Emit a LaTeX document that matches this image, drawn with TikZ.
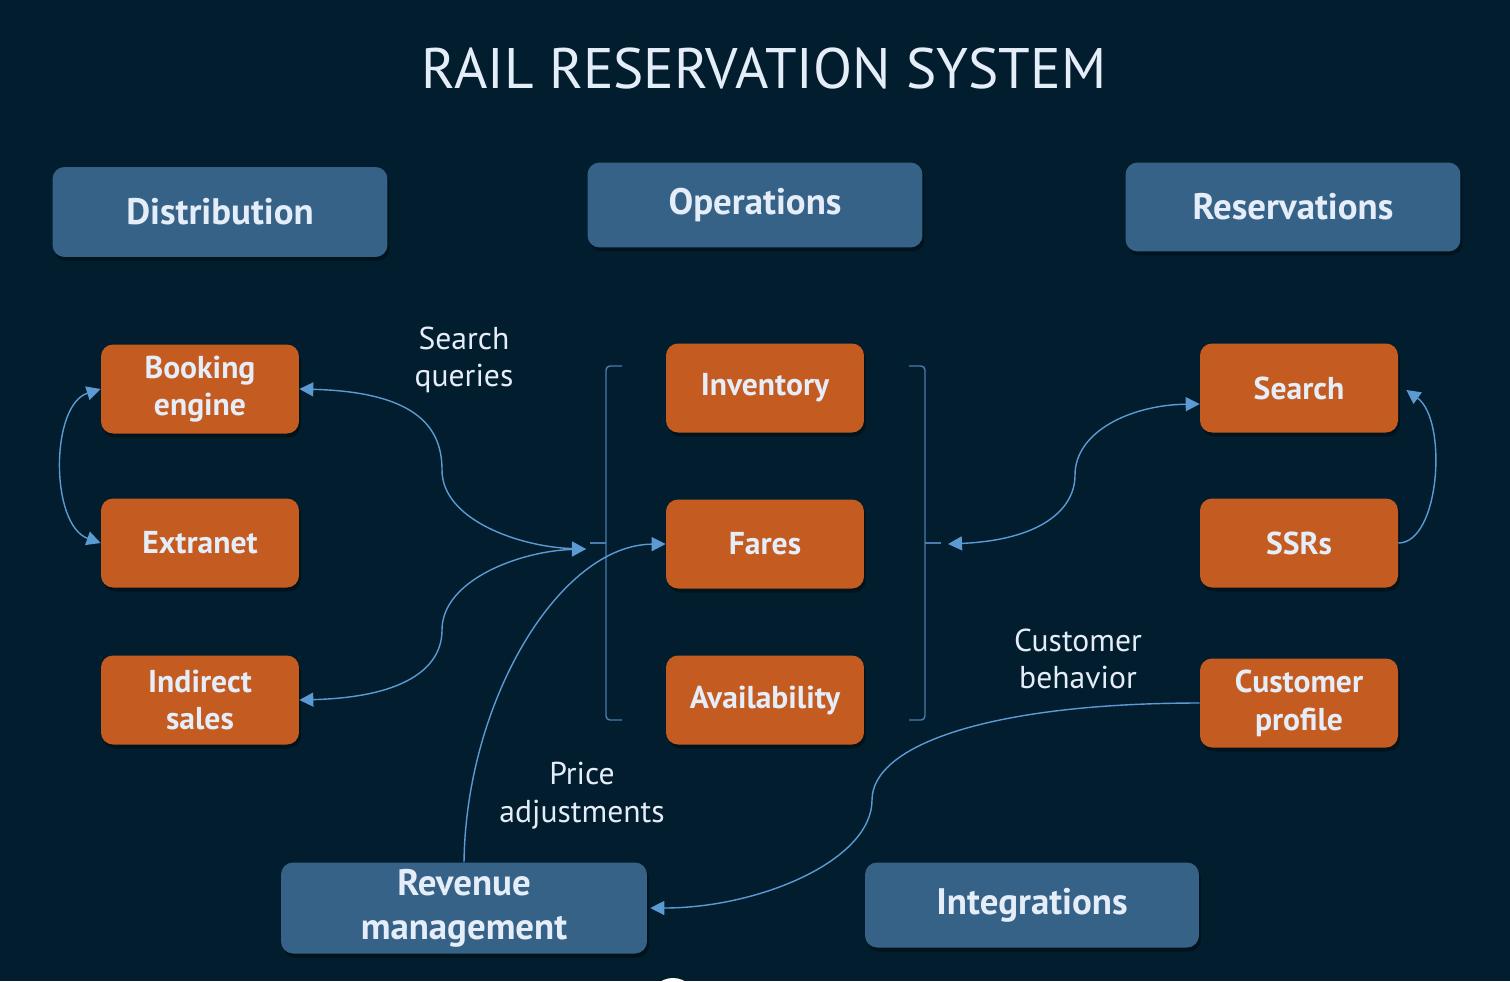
\documentclass[tikz,border=0pt]{standalone}
\usepackage{fontspec}
\setmainfont{PT Sans}
\usetikzlibrary{arrows.meta,shadows}
\definecolor{rrsbg}{HTML}{021E2E}
\definecolor{rrsgroup}{HTML}{366288}
\definecolor{rrsmodule}{HTML}{C45B21}
\definecolor{rrstext}{HTML}{E4EDF8}
\definecolor{rrslink}{HTML}{5B9AD2}
\definecolor{rrsbrace}{HTML}{4A7DAE}
\tikzset{
  boxshadow/.style={drop shadow={shadow xshift=0.04cm,shadow yshift=-0.08cm,opacity=0.35,fill=black}},
  groupbox/.style={fill=rrsgroup,rounded corners=2.4mm,minimum width=6.7cm,minimum height=1.75cm,
    inner sep=0pt,text=rrstext,font=\fontsize{21}{25}\selectfont\bfseries,align=center,boxshadow},
  modulebox/.style={fill=rrsmodule,rounded corners=2.4mm,minimum width=3.96cm,minimum height=1.78cm,
    inner sep=0pt,text=rrstext,font=\fontsize{18}{21.5}\selectfont\bfseries,align=center,boxshadow},
  flowlabel/.style={text=rrstext,font=\fontsize{18}{21.5}\selectfont,align=center},
  flowlink/.style={draw=rrslink,line width=0.8pt,-{Triangle[length=2.8mm,width=2.8mm]}},
  flowpair/.style={flowlink,{Triangle[length=2.8mm,width=2.8mm]}-{Triangle[length=2.8mm,width=2.8mm]}},
  bracefrm/.style={draw=rrsbrace,line width=0.8pt,rounded corners=0.08cm},
}
\begin{document}
\begin{tikzpicture}[x=0.02cm,y=-0.02cm]
        \path[use as bounding box] (0,0) rectangle (1510,981);
        \clip (0,0) rectangle (1510,981);
        \fill[rrsbg] (0,0) rectangle (1510,981);
        \node[text=rrstext,font=\fontsize{32.5}{36}\selectfont] (title) at (764,69) {RAIL RESERVATION SYSTEM};
        % group headers
        \node[groupbox,minimum height=1.8cm] (distribution) at (220,212) {Distribution};
        \node[groupbox,minimum height=1.7cm] (operations) at (755,205) {Operations};
        \node[groupbox,minimum height=1.78cm] (reservations) at (1293,207) {Reservations};
        \node[groupbox,minimum width=7.32cm,minimum height=1.82cm] (revenue) at (464,908) {Revenue\\management};
        \node[groupbox,minimum width=6.68cm,minimum height=1.7cm] (integrations) at (1032,905) {Integrations};
        % modules
        \foreach \name/\txt/\x/\y in {booking/{Booking\\engine}/200/389,extranet/Extranet/200/543,
            indirect/{Indirect\\sales}/200/700,inventory/Inventory/765/388,fares/Fares/765/544,
            availability/Availability/765/700,search/Search/1299/388,ssrs/SSRs/1299/543,
            custprof/{Customer\\profile}/1299/703}
          {\node[modulebox] (\name) at (\x,\y) {\txt};}
        % labels
        \node[flowlabel] (lblsearch) at (464,360) {Search\\queries};
        \node[flowlabel] (lblcustomer) at (1078,659) {Customer\\behavior};
        \node[flowlabel] (lblprice) at (582,796) {Price\\adjustments};
        % braces round operations
        \draw[bracefrm] (622,366) -- (606,366) -- (606,720) -- (622,720);
        \draw[bracefrm] (590,543) -- (606,543);
        \draw[bracefrm] (909,366) -- (925,366) -- (925,720) -- (909,720);
        \draw[bracefrm] (925,543) -- (941,543);
        \coordinate (lhook) at (586,549);
        \coordinate (rhook) at (948,544);
        % connectors
        \draw[flowpair] (booking.west) .. controls (50,405) and (50,525) .. (extranet.west);
        \draw[flowpair] (booking.east) .. controls (420,392) and (442,430) .. (442,470)
          .. controls (442,520) and (520,547) .. (lhook);
        \draw[flowpair] (indirect.east) .. controls (410,697) and (442,665) .. (442,630)
          .. controls (442,580) and (520,551) .. (lhook);
        \draw[flowlink] (revenue.north) .. controls (466,700) and (560,545) .. (fares.west);
        \draw[flowpair] (rhook) .. controls (1040,540) and (1075,510) .. (1075,475)
          .. controls (1075,432) and (1130,405) .. ([yshift=-0.32cm]search.west);
        \draw[flowlink] (ssrs.east) .. controls (1440,543) and (1448,420) .. ([xshift=0.16cm,yshift=-0.04cm]search.east);
        \draw[flowlink] (custprof.west) .. controls (990,703) and (872,745) .. (872,800)
          .. controls (872,860) and (760,908) .. ([xshift=0.06cm]revenue.east);
        \fill[white] (673,1002) circle (24);
      \end{tikzpicture}
\end{document}
